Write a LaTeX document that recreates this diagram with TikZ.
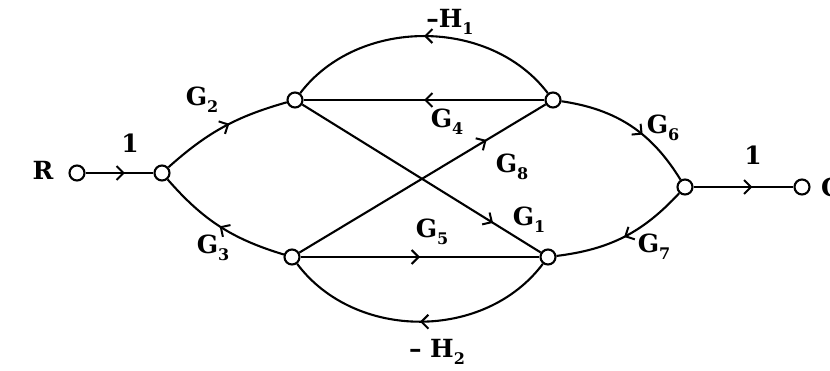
\documentclass[tikz,border=0pt]{standalone}
\usepackage{fontspec}
\setmainfont{DejaVu Serif}
\usetikzlibrary{arrows.meta,decorations.markings}
\newcommand\gsb[2]{#1\raisebox{-0.28em}{\fontsize{16}{18}\selectfont #2}}
\begin{document}
\begin{tikzpicture}[x=1pt,y=1pt,
  nd/.style={circle,draw,line width=2.1pt,minimum size=15pt,inner sep=0pt,fill=white},
  edge/.style={line width=2.1pt},
  arrowat/.style={postaction={decorate},decoration={markings,mark=at position #1 with {\arrow{Straight Barb[length=7pt,width=14pt,line width=2pt]}}}},
  lbl/.style={font=\fontsize{25}{28}\selectfont\bfseries,inner sep=0pt}]
\useasboundingbox (0,0) rectangle (830,370);
% nodes
\node[nd] (R) at (77,197) {};
\node[nd] (n2) at (162,197) {};
\node[nd] (n3) at (295,270) {};
\node[nd] (n4) at (553,270) {};
\node[nd] (n5) at (292,113) {};
\node[nd] (n6) at (548,113) {};
\node[nd] (n7) at (685,183) {};
\node[nd] (C) at (802,183) {};
% edges
\draw[edge,arrowat=0.58] (R) -- (n2);
\draw[edge,arrowat=0.55] (n2) to[bend left=13] (n3);
\draw[edge,arrowat=0.5] (n5) to[bend left=16] (n2);
\draw[edge,arrowat=0.5] (n4) .. controls (490,353) and (358,353) .. (n3);
\draw[edge,arrowat=0.5] (n4) -- (n3);
\draw[edge,arrowat=0.8] (n3) -- (n6);
\draw[edge,arrowat=0.76] (n5) -- (n4);
\draw[edge,arrowat=0.5] (n5) -- (n6);
\draw[edge,arrowat=0.5] (n6) .. controls (485,29) and (355,29) .. (n5);
\draw[edge,arrowat=0.6] (n4) to[bend left=25] (n7);
\draw[edge,arrowat=0.5] (n7) to[bend left=20] (n6);
\draw[edge,arrowat=0.59] (n7) -- (C);
% labels
\node[lbl] (lR) at (43,200) {R};
\node[lbl,anchor=west] (lC) at (821,183) {C};
\node[lbl] (l1a) at (130,227) {1};
\node[lbl] (l1b) at (753,215) {1};
\node[lbl] (lG2) at (202,270) {\gsb{G}{2}};
\node[lbl] (lG3) at (213,122) {\gsb{G}{3}};
\node[lbl] (lH1) at (450,348) {\gsb{–H}{1}};
\node[lbl] (lG4) at (447,248) {\gsb{G}{4}};
\node[lbl] (lG8) at (512,203) {\gsb{G}{8}};
\node[lbl] (lG1) at (529,150) {\gsb{G}{1}};
\node[lbl] (lG5) at (432,138) {\gsb{G}{5}};
\node[lbl] (lH2) at (437,18) {\gsb{– H}{2}};
\node[lbl] (lG6) at (663,242) {\gsb{G}{6}};
\node[lbl] (lG7) at (654,123) {\gsb{G}{7}};
\end{tikzpicture}
\end{document}
